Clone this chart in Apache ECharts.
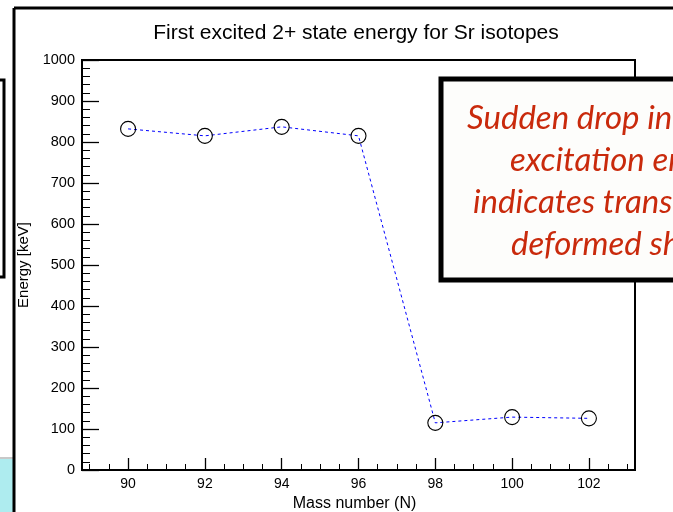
<!DOCTYPE html>
<html><head><meta charset="utf-8">
<script src="https://cdn.jsdelivr.net/npm/echarts@6/dist/echarts.min.js"></script>
<style>html,body{margin:0;padding:0;background:#fff}#c{width:673px;height:512px}</style>
</head><body><div id="c"></div>
<script>
const massNumbers = [90, 92, 94, 96, 98, 100, 102];
const energies = [832, 815, 837, 815, 115, 129, 126];
const xTickLabels = [90, 92, 94, 96, 98, 100, 102];
const xMinorTicks = [89, 89.5, 90, 90.5, 91, 91.5, 92, 92.5, 93, 93.5, 94, 94.5, 95, 95.5, 96, 96.5, 97, 97.5, 98, 98.5, 99, 99.5, 100, 100.5, 101, 101.5, 102, 102.5, 103];
const titleText = 'First excited 2+ state energy for Sr isotopes';
const xTitle = 'Mass number (N)';
const yTitle = 'Energy [keV]';
const noteLines = ['Sudden drop in the', 'excitation energy', 'indicates transition to', 'deformed shape'];

const chart = echarts.init(document.getElementById('c'), null, {renderer: 'canvas'});
const F = 'Liberation Sans, Arial, Helvetica, sans-serif';
const noteX = [467, 510, 473, 511];
const noteTop = [102, 144, 186, 228];
const graphic = [
  {type: 'rect', shape: {x: -10, y: 80, width: 14, height: 197}, style: {fill: 'none', stroke: '#000', lineWidth: 3}, z: 10},
  {type: 'rect', shape: {x: 0, y: 458, width: 13, height: 60}, style: {fill: '#aeecef'}, z: 10},
  {type: 'rect', shape: {x: 0, y: 457, width: 13, height: 2}, style: {fill: '#c8c8c8'}, z: 10},
  {type: 'line', shape: {x1: 14, y1: 8, x2: 14, y2: 520}, style: {stroke: '#000', lineWidth: 3}, z: 10},
  {type: 'line', shape: {x1: 14, y1: 8, x2: 680, y2: 8}, style: {stroke: '#000', lineWidth: 3}, z: 10},
  {type: 'rect', shape: {x: 441, y: 79, width: 260, height: 201}, style: {fill: '#fdfdfb', stroke: '#000', lineWidth: 5}, z: 20}
];
noteLines.forEach((t, i) => graphic.push({
  type: 'text', left: noteX[i], top: noteTop[i], z: 21,
  style: {text: t, font: 'italic 33px Lato, "Open Sans", sans-serif', fill: '#c92a0c'}
}));

chart.setOption({
  animation: false,
  backgroundColor: '#fff',
  title: {text: titleText, left: 351, textAlign: 'center', top: 18,
    textStyle: {fontFamily: F, fontWeight: 'normal', fontSize: 21, color: '#000'}},
  grid: {left: 82, right: 38, top: 60, bottom: 42, show: true, borderColor: '#000', borderWidth: 2,
    backgroundColor: 'transparent', containLabel: false, outerBoundsMode: 'none'},
  xAxis: [{
    type: 'value', min: 88.8, max: 103.2, position: 'bottom',
    splitLine: {show: false}, axisLine: {show: false},
    axisTick: {show: true, inside: true, length: 12, customValues: xTickLabels, lineStyle: {color: '#000', width: 1.3}},
    axisLabel: {show: true, customValues: xTickLabels, margin: 7, fontFamily: F, fontSize: 14, color: '#000'},
    name: xTitle, nameLocation: 'middle', nameGap: 20,
    nameTextStyle: {fontFamily: F, fontSize: 16, color: '#000', padding: [0, 0, 0, -8]}
  }, {
    type: 'value', min: 88.8, max: 103.2, position: 'bottom', offset: 0,
    splitLine: {show: false}, axisLine: {show: false}, axisLabel: {show: false},
    axisTick: {show: true, inside: true, length: 6, customValues: xMinorTicks, lineStyle: {color: '#000', width: 1}}
  }],
  yAxis: {
    type: 'value', min: 0, max: 1000, interval: 100,
    splitLine: {show: false}, axisLine: {show: false},
    axisTick: {show: true, inside: true, length: 17, lineStyle: {color: '#000', width: 1.3}},
    minorTick: {show: true, splitNumber: 5, length: 8, lineStyle: {color: '#000', width: 1}},
    axisLabel: {margin: 7, fontFamily: F, fontSize: 14.5, color: '#000', formatter: v => String(v)},
    name: yTitle, nameLocation: 'middle', nameGap: 46,
    nameTextStyle: {fontFamily: F, fontSize: 15, color: '#000'}
  },
  series: [{
    type: 'line', xAxisIndex: 0,
    data: massNumbers.map((m, i) => [m, energies[i]]),
    symbol: 'circle', symbolSize: 15,
    itemStyle: {color: 'rgba(0,0,0,0)', borderColor: '#000', borderWidth: 1.1},
    lineStyle: {color: '#0000ff', width: 1, type: [3, 3]},
    z: 3
  }],
  graphic: graphic
});
</script></body></html>
